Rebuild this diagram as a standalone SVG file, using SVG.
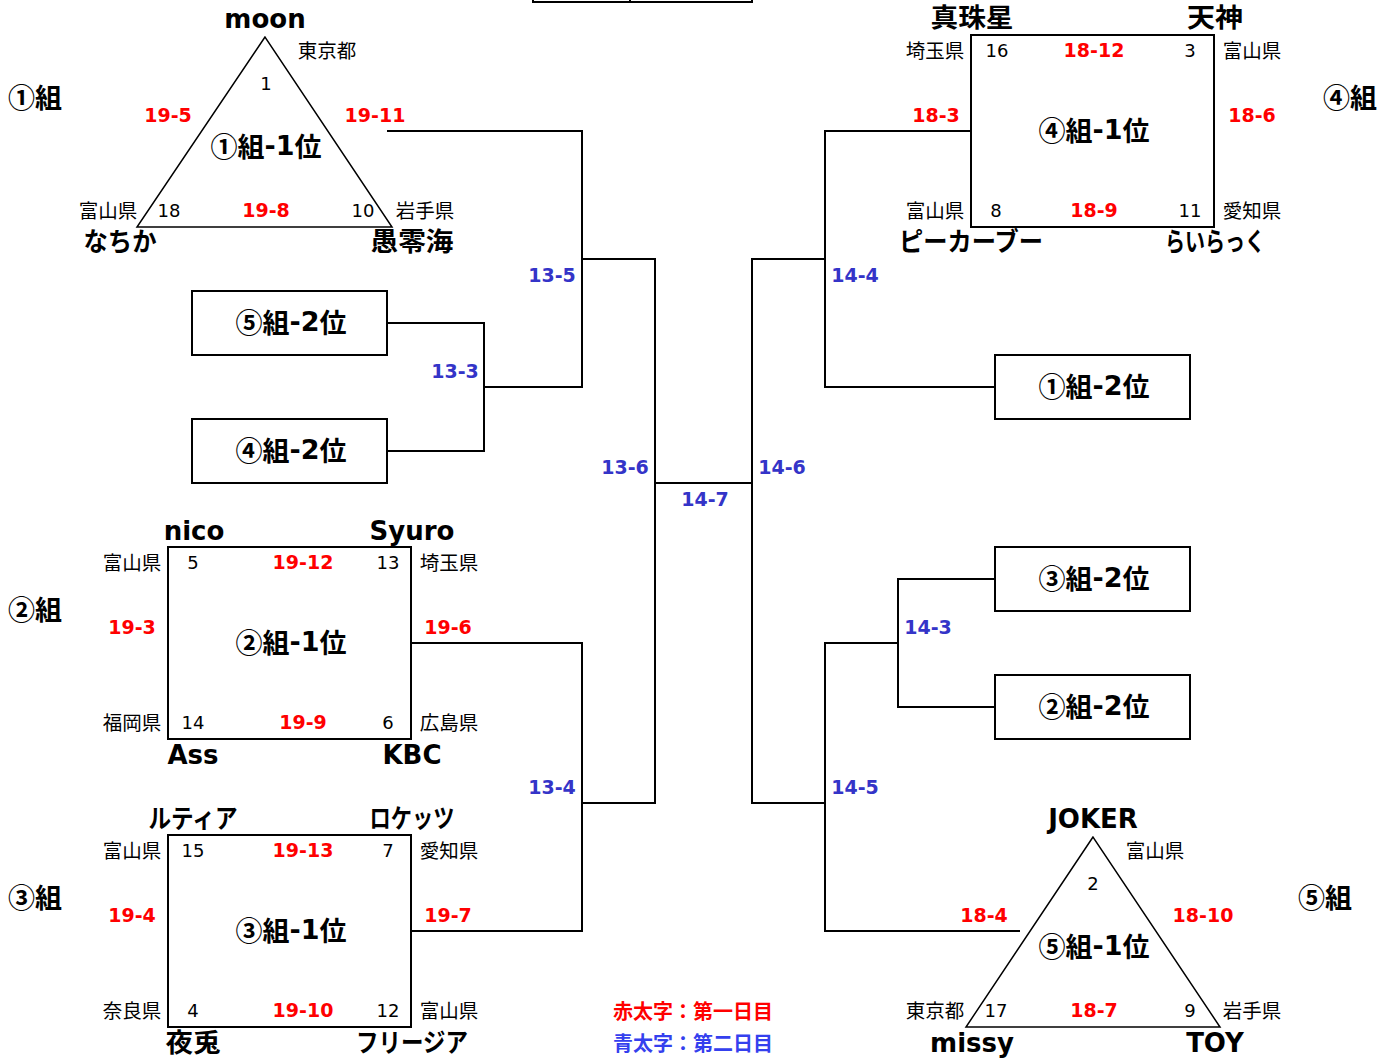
<svg xmlns="http://www.w3.org/2000/svg" width="1394" height="1063" viewBox="0 0 1394 1063">
<style>
text{font-family:"DejaVu Sans","Noto Sans CJK JP",sans-serif;dominant-baseline:central;text-anchor:middle;fill:#000}
.team{font-size:26px;font-weight:bold}
.grp{font-size:27px;font-weight:bold;text-anchor:start;font-family:"Noto Sans CJK JP",sans-serif}
.rank{font-size:27px;font-weight:bold;font-family:"Noto Sans CJK JP",sans-serif}
.rank tspan{font-family:"DejaVu Sans",sans-serif}
.pref{font-size:19.5px;font-family:"Noto Sans CJK JP",sans-serif}
.num{font-size:18px}
.r{font-size:19px;font-weight:bold;fill:#ff0000}
.b{font-size:19px;font-weight:bold;fill:#3434c8}
.leg{font-size:20px;font-weight:bold;text-anchor:start;font-family:"Noto Sans CJK JP",sans-serif}
.box{fill:#fff;stroke:#000;stroke-width:2}
.tri{fill:#fff;stroke:#000;stroke-width:1.5}
.ln{fill:none;stroke:#000;stroke-width:2}
</style>
<rect width="1394" height="1063" fill="#fff"/>
<g id="connectors">
<polyline class="ln" points="387,131 582,131 582,387 484,387"/>
<polyline class="ln" points="387,323 484,323 484,451 387,451"/>
<polyline class="ln" points="582,259 655,259 655,803 582,803"/>
<polyline class="ln" points="411,643 582,643 582,931 411,931"/>
<polyline class="ln" points="655,483 752,483"/>
<polyline class="ln" points="825,259 752,259 752,803 825,803"/>
<polyline class="ln" points="971,131 825,131 825,387 995,387"/>
<polyline class="ln" points="1020,931 825,931 825,643 898,643"/>
<polyline class="ln" points="995,579 898,579 898,707 995,707"/>
</g>
<g id="topbox">
<rect class="box" x="533" y="-10" width="219" height="12"/>
<line class="ln" x1="630" y1="-10" x2="630" y2="2"/>
</g>
<g id="group1">
<text class="grp" x="8" y="96">①組</text>
<polygon class="tri" points="265,37 137,227 392,227"/>
<text class="team" x="265" y="19">moon</text>
<text class="pref" x="327" y="49">東京都</text>
<text class="num" x="266" y="83">1</text>
<text class="r" x="168" y="115">19-5</text>
<text class="r" x="375" y="115">19-11</text>
<text class="rank" x="266" y="145">①組<tspan>-1</tspan>位</text>
<text class="pref" x="108" y="209">富山県</text>
<text class="num" x="169" y="210">18</text>
<text class="r" x="266" y="210">19-8</text>
<text class="num" x="363" y="210">10</text>
<text class="pref" x="425" y="209">岩手県</text>
<text class="team" x="120" y="242" textLength="73" lengthAdjust="spacingAndGlyphs">なちか</text>
<text class="team" x="412" y="242" textLength="83" lengthAdjust="spacingAndGlyphs">愚零海</text>
</g>
<g id="g5-2">
<rect class="box" x="192" y="291" width="195" height="64"/>
<text class="rank" x="291" y="321">⑤組<tspan>-2</tspan>位</text>
</g>
<g id="g4-2">
<rect class="box" x="192" y="419" width="195" height="64"/>
<text class="rank" x="291" y="449">④組<tspan>-2</tspan>位</text>
</g>
<g id="group2">
<text class="grp" x="8" y="608">②組</text>
<rect class="box" x="168" y="547" width="243" height="192"/>
<text class="team" x="194" y="531">nico</text>
<text class="team" x="412" y="531">Syuro</text>
<text class="pref" x="132" y="561">富山県</text>
<text class="num" x="193" y="562">5</text>
<text class="r" x="303" y="562">19-12</text>
<text class="num" x="388" y="562">13</text>
<text class="pref" x="449" y="561">埼玉県</text>
<text class="r" x="132" y="627">19-3</text>
<text class="r" x="448" y="627">19-6</text>
<text class="rank" x="291" y="641">②組<tspan>-1</tspan>位</text>
<text class="pref" x="132" y="721">福岡県</text>
<text class="num" x="193" y="722">14</text>
<text class="r" x="303" y="722">19-9</text>
<text class="num" x="388" y="722">6</text>
<text class="pref" x="449" y="721">広島県</text>
<text class="team" x="193" y="755">Ass</text>
<text class="team" x="412" y="755">KBC</text>
</g>
<g id="group3">
<text class="grp" x="8" y="896">③組</text>
<rect class="box" x="168" y="835" width="243" height="192"/>
<text class="team" x="193" y="819" textLength="89" lengthAdjust="spacingAndGlyphs">ルティア</text>
<text class="team" x="412" y="819" textLength="85" lengthAdjust="spacingAndGlyphs">ロケッツ</text>
<text class="pref" x="132" y="849">富山県</text>
<text class="num" x="193" y="850">15</text>
<text class="r" x="303" y="850">19-13</text>
<text class="num" x="388" y="850">7</text>
<text class="pref" x="449" y="849">愛知県</text>
<text class="r" x="132" y="915">19-4</text>
<text class="r" x="448" y="915">19-7</text>
<text class="rank" x="291" y="929">③組<tspan>-1</tspan>位</text>
<text class="pref" x="132" y="1009">奈良県</text>
<text class="num" x="193" y="1010">4</text>
<text class="r" x="303" y="1010">19-10</text>
<text class="num" x="388" y="1010">12</text>
<text class="pref" x="449" y="1009">富山県</text>
<text class="team" x="193" y="1043" textLength="55" lengthAdjust="spacingAndGlyphs">夜兎</text>
<text class="team" x="412" y="1043" textLength="112" lengthAdjust="spacingAndGlyphs">フリージア</text>
</g>
<g id="group4">
<text class="grp" x="1323" y="96">④組</text>
<rect class="box" x="971" y="35" width="243" height="192"/>
<text class="team" x="972" y="18" textLength="83" lengthAdjust="spacingAndGlyphs">真珠星</text>
<text class="team" x="1215" y="18" textLength="56" lengthAdjust="spacingAndGlyphs">天神</text>
<text class="pref" x="935" y="49">埼玉県</text>
<text class="num" x="997" y="50">16</text>
<text class="r" x="1094" y="50">18-12</text>
<text class="num" x="1190" y="50">3</text>
<text class="pref" x="1252" y="49">富山県</text>
<text class="r" x="936" y="115">18-3</text>
<text class="r" x="1252" y="115">18-6</text>
<text class="rank" x="1094" y="129">④組<tspan>-1</tspan>位</text>
<text class="pref" x="935" y="209">富山県</text>
<text class="num" x="996" y="210">8</text>
<text class="r" x="1094" y="210">18-9</text>
<text class="num" x="1190" y="210">11</text>
<text class="pref" x="1252" y="209">愛知県</text>
<text class="team" x="971" y="242" textLength="144" lengthAdjust="spacingAndGlyphs">ピーカーブー</text>
<text class="team" x="1215" y="242" textLength="100" lengthAdjust="spacingAndGlyphs">らいらっく</text>
</g>
<g id="g1-2">
<rect class="box" x="995" y="355" width="195" height="64"/>
<text class="rank" x="1094" y="385">①組<tspan>-2</tspan>位</text>
</g>
<g id="g3-2">
<rect class="box" x="995" y="547" width="195" height="64"/>
<text class="rank" x="1094" y="577">③組<tspan>-2</tspan>位</text>
</g>
<g id="g2-2">
<rect class="box" x="995" y="675" width="195" height="64"/>
<text class="rank" x="1094" y="705">②組<tspan>-2</tspan>位</text>
</g>
<g id="group5">
<text class="grp" x="1298" y="896">⑤組</text>
<polygon class="tri" points="1093,837 966,1027 1220,1027"/>
<text class="team" x="1093" y="819">JOKER</text>
<text class="pref" x="1155" y="849">富山県</text>
<text class="num" x="1093" y="883">2</text>
<text class="r" x="984" y="915">18-4</text>
<text class="r" x="1203" y="915">18-10</text>
<text class="rank" x="1094" y="945">⑤組<tspan>-1</tspan>位</text>
<text class="pref" x="935" y="1009">東京都</text>
<text class="num" x="996" y="1010">17</text>
<text class="r" x="1094" y="1010">18-7</text>
<text class="num" x="1190" y="1010">9</text>
<text class="pref" x="1252" y="1009">岩手県</text>
<text class="team" x="972" y="1043">missy</text>
<text class="team" x="1215" y="1043">TOY</text>
</g>
<g id="scores2">
<text class="b" x="552" y="275">13-5</text>
<text class="b" x="455" y="371">13-3</text>
<text class="b" x="552" y="787">13-4</text>
<text class="b" x="625" y="467">13-6</text>
<text class="b" x="705" y="499">14-7</text>
<text class="b" x="782" y="467">14-6</text>
<text class="b" x="855" y="275">14-4</text>
<text class="b" x="928" y="627">14-3</text>
<text class="b" x="855" y="787">14-5</text>
</g>
<g id="legend">
<text class="leg" x="613" y="1010" style="fill:#ff0000">赤太字：第一日目</text>
<text class="leg" x="613" y="1042" style="fill:#3440ee">青太字：第二日目</text>
</g>
</svg>
